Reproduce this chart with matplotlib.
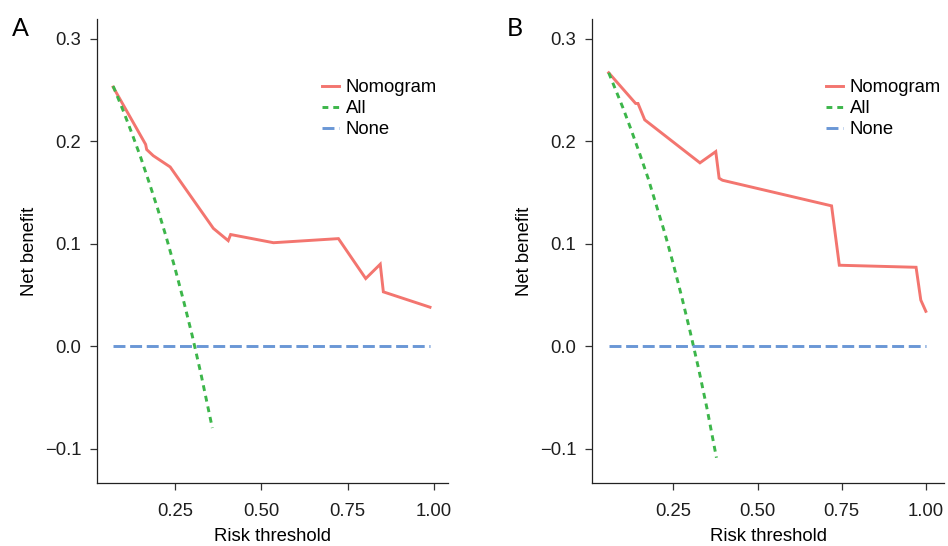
import matplotlib
matplotlib.use("Agg")
import matplotlib.pyplot as plt

plt.rcParams['font.family'] = ['Liberation Sans', 'DejaVu Sans']

# decision curve values, panel A
a_nomo_x = [0.071, 0.165, 0.168, 0.187, 0.236, 0.361, 0.404, 0.411, 0.535, 0.723, 0.802, 0.844, 0.853, 0.988]
a_nomo_y = [0.253, 0.197, 0.192, 0.186, 0.175, 0.115, 0.103, 0.109, 0.101, 0.105, 0.066, 0.080, 0.053, 0.038]
a_all_x = [0.071, 0.100, 0.125, 0.150, 0.175, 0.200, 0.225, 0.250, 0.275, 0.300, 0.325, 0.358]
a_all_y = [0.254, 0.230, 0.208, 0.185, 0.160, 0.134, 0.106, 0.076, 0.044, 0.010, -0.027, -0.080]
a_none_x = [0.071, 0.988]
a_none_y = [0.0, 0.0]

# decision curve values, panel B
b_nomo_x = [0.058, 0.138, 0.145, 0.165, 0.329, 0.376, 0.386, 0.396, 0.720, 0.743, 0.971, 0.985, 1.000]
b_nomo_y = [0.267, 0.237, 0.237, 0.221, 0.179, 0.190, 0.164, 0.162, 0.137, 0.079, 0.077, 0.045, 0.034]
b_all_x = [0.058, 0.100, 0.125, 0.150, 0.175, 0.200, 0.225, 0.250, 0.275, 0.300, 0.325, 0.350, 0.378]
b_all_y = [0.267, 0.233, 0.211, 0.188, 0.164, 0.137, 0.110, 0.080, 0.048, 0.014, -0.022, -0.061, -0.109]
b_none_x = [0.058, 1.000]
b_none_y = [0.0, 0.0]

x_ticks = [0.25, 0.50, 0.75, 1.00]
x_tick_labels = ['0.25', '0.50', '0.75', '1.00']
y_ticks = [-0.1, 0.0, 0.1, 0.2, 0.3]
y_tick_labels = ['\u22120.1', '0.0', '0.1', '0.2', '0.3']

RED = '#f3756f'
GREEN = '#3cb64a'
BLUE = '#6a97d6'
LW = 2.1

fig = plt.figure(figsize=(9.48, 5.46), dpi=100)
ax_a = fig.add_axes([0.1026, 0.1148, 0.3703, 0.8504])
ax_b = fig.add_axes([0.6248, 0.1148, 0.3710, 0.8504])


def draw_panel(ax, nomo_x, nomo_y, all_x, all_y, none_x, none_y, xlim, legend_x):
    l1, = ax.plot(nomo_x, nomo_y, color=RED, lw=LW, solid_joinstyle='miter', label='Nomogram')
    l2, = ax.plot(all_x, all_y, color=GREEN, lw=LW, dashes=(2.0, 1.7), label='All')
    l3, = ax.plot(none_x, none_y, color=BLUE, lw=LW, dashes=(4.1, 1.6), label='None')

    ax.set_xlim(*xlim)
    ax.set_ylim(-0.134, 0.3195)
    ax.set_xticks(x_ticks)
    ax.set_xticklabels(x_tick_labels)
    ax.set_yticks(y_ticks)
    ax.set_yticklabels(y_tick_labels)

    for side in ('top', 'right'):
        ax.spines[side].set_visible(False)
    for side in ('left', 'bottom'):
        ax.spines[side].set_linewidth(0.9)
        ax.spines[side].set_color('#222222')

    ax.tick_params(axis='both', length=5, width=0.9, color='#333333',
                   labelsize=13.3, labelcolor='#1e1e1e')
    ax.tick_params(axis='x', pad=9.5)
    ax.tick_params(axis='y', pad=6.5)

    ax.set_xlabel('Risk threshold', fontsize=13.3, labelpad=5.5)
    ax.set_ylabel('Net benefit', fontsize=13.3, labelpad=5)

    ax.legend(handles=[l1, l2, l3], loc='upper left', bbox_to_anchor=(legend_x, 0.870),
              frameon=False, fontsize=13.3, handlelength=0.92, handletextpad=0.38,
              labelspacing=0.22, borderpad=0, borderaxespad=0)


draw_panel(ax_a, a_nomo_x, a_nomo_y, a_all_x, a_all_y, a_none_x, a_none_y,
           (0.025, 1.041), 0.639)
draw_panel(ax_b, b_nomo_x, b_nomo_y, b_all_x, b_all_y, b_none_x, b_none_y,
           (0.0093, 1.054), 0.664)

fig.text(0.0123, 0.934, 'A', fontsize=18, family=['Lato', 'DejaVu Sans'], va='baseline')
fig.text(0.535, 0.934, 'B', fontsize=18, family=['Lato', 'DejaVu Sans'], va='baseline')

fig.savefig('out.png', dpi=100)
